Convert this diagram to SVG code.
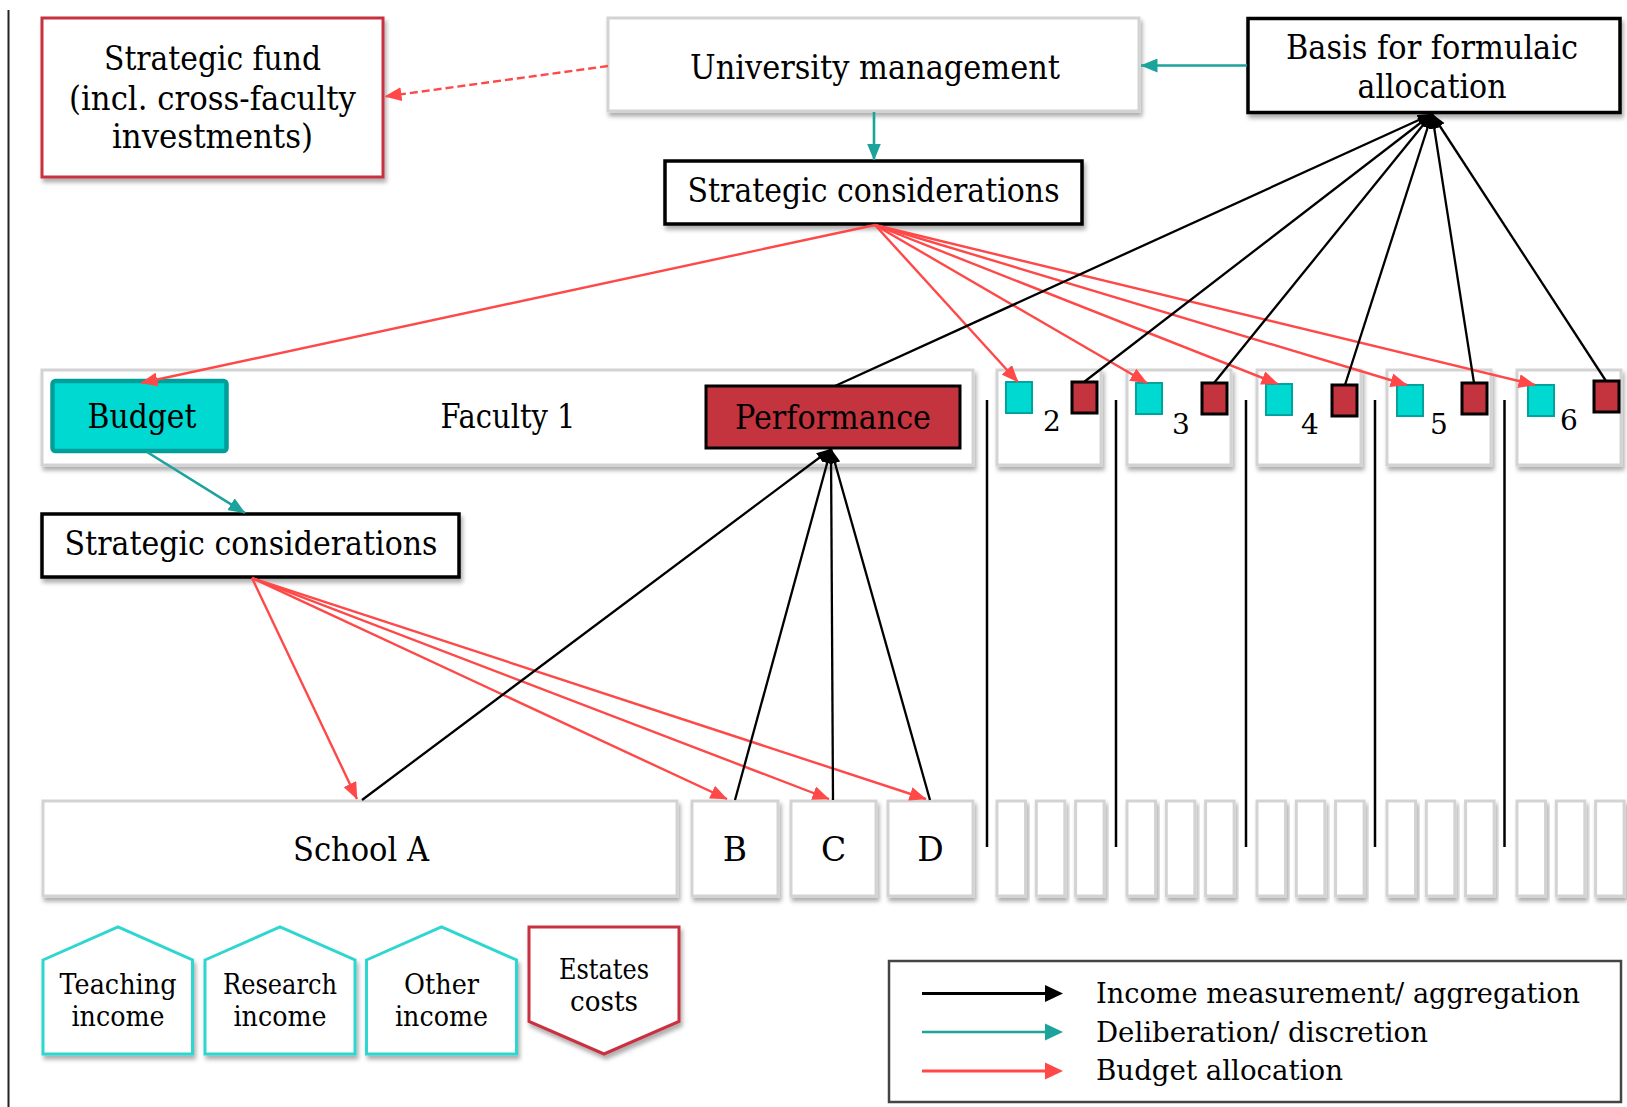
<svg xmlns="http://www.w3.org/2000/svg" width="1627" height="1107" viewBox="0 0 1627 1107">
  <style>
    text { font-family: "DejaVu Serif", "Liberation Serif", serif; fill: #000; text-anchor: middle; }
    .lbl { font-size: 33px; }
    .sm { font-size: 28px; }
    .num { font-size: 28px; }
    .leg { font-size: 28px; text-anchor: start; }
    .grey { fill: #fff; stroke: #d3d3d3; stroke-width: 3; filter: url(#shadow); }
    .blk { fill: #fff; stroke: #000; stroke-width: 3.5; filter: url(#shadow); }
    .redbox { fill: #fff; stroke: #c8323f; stroke-width: 3; filter: url(#shadow); }
    .inc { fill: #fff; stroke: #2fd6d0; stroke-width: 3; stroke-linejoin: miter; filter: url(#shadow); }
    .cost { fill: #fff; stroke: #c8323f; stroke-width: 3; filter: url(#shadow); }
    .cyan { fill: #00d8d2; stroke: #00a49d; stroke-width: 2; }
    .perf { fill: #c4343e; stroke: #000; stroke-width: 3; }
    .c-black { stroke: #000; stroke-width: 2.3; fill: none; marker-end: url(#ah-black); }
    .c-red { stroke: #ff4848; stroke-width: 2.4; fill: none; marker-end: url(#ah-red); }
    .c-teal { stroke: #1ba39c; stroke-width: 2.6; fill: none; marker-end: url(#ah-teal); }
    .vline { stroke: #000; stroke-width: 2.5; }
  </style>
  <defs>
    <filter id="shadow" x="-10%" y="-15%" width="125%" height="140%">
      <feDropShadow dx="2" dy="4" stdDeviation="2" flood-color="#000" flood-opacity="0.32"/>
    </filter>
    <marker id="ah-red" viewBox="0 0 17 14" refX="16.5" refY="7" markerWidth="17" markerHeight="14" markerUnits="userSpaceOnUse" orient="auto">
      <path d="M0,0 L17,7 L0,14 Z" fill="#ff4848"/>
    </marker>
    <marker id="ah-teal" viewBox="0 0 17 14" refX="16.5" refY="7" markerWidth="17" markerHeight="14" markerUnits="userSpaceOnUse" orient="auto">
      <path d="M0,0 L17,7 L0,14 Z" fill="#1ba39c"/>
    </marker>
    <marker id="ah-black" viewBox="0 0 15 11" refX="14.5" refY="5.5" markerWidth="15" markerHeight="11" markerUnits="userSpaceOnUse" orient="auto">
      <path d="M0,0 L15,5.5 L0,11 Z" fill="#000"/>
    </marker>
  </defs>

  <rect width="1627" height="1107" fill="#fff"/>
  <!-- page margin rule -->
  <line x1="8.5" y1="10" x2="8.5" y2="1107" stroke="#222" stroke-width="2"/>

  <!-- top level -->
  <g id="strategic-fund">
    <rect class="redbox" x="42" y="18" width="341" height="159"/>
    <text class="lbl" x="212.5" y="70" textLength="217" lengthAdjust="spacingAndGlyphs">Strategic fund</text>
    <text class="lbl" x="212.5" y="110" textLength="287" lengthAdjust="spacingAndGlyphs">(incl. cross-faculty</text>
    <text class="lbl" x="212.5" y="148" textLength="201" lengthAdjust="spacingAndGlyphs">investments)</text>
  </g>
  <g id="university-management">
    <rect class="grey" x="608" y="18" width="531" height="93"/>
    <text class="lbl" x="875" y="79" textLength="370" lengthAdjust="spacingAndGlyphs">University management</text>
  </g>
  <g id="basis-formulaic">
    <rect class="blk" x="1248" y="18.5" width="372" height="94"/>
    <text class="lbl" x="1432" y="59" textLength="292" lengthAdjust="spacingAndGlyphs">Basis for formulaic</text>
    <text class="lbl" x="1432" y="98" textLength="149" lengthAdjust="spacingAndGlyphs">allocation</text>
  </g>
  <g id="strategic-considerations-top">
    <rect class="blk" x="665" y="161" width="417" height="63"/>
    <text class="lbl" x="873.5" y="202" textLength="372" lengthAdjust="spacingAndGlyphs">Strategic considerations</text>
  </g>

  <!-- faculty level -->
  <g id="faculty-1">
    <rect class="grey" x="42" y="370" width="931" height="95"/>
    <text class="lbl" x="508" y="428" textLength="135" lengthAdjust="spacingAndGlyphs">Faculty 1</text>
  </g>
  <g id="budget">
    <rect x="52.5" y="381" width="174" height="70" rx="3" fill="#00d8d2" stroke="#009e98" stroke-width="4.5"/>
    <text class="lbl" x="142" y="428" textLength="109" lengthAdjust="spacingAndGlyphs">Budget</text>
  </g>
  <g id="performance">
    <rect class="perf" x="706" y="386" width="254" height="62"/>
    <text class="lbl" x="833" y="429" textLength="196" lengthAdjust="spacingAndGlyphs">Performance</text>
  </g>

  <g id="faculty-2">
    <rect class="grey" x="997" y="370" width="104" height="95"/>
    <rect class="cyan" x="1006" y="382" width="26" height="31"/>
    <rect class="perf" x="1072" y="382" width="25" height="31" stroke-width="2.5"/>
    <text class="num" x="1052" y="431">2</text>
  </g>
  <g id="faculty-3">
    <rect class="grey" x="1127" y="370" width="104" height="95"/>
    <rect class="cyan" x="1136" y="383" width="26" height="31"/>
    <rect class="perf" x="1202" y="383" width="25" height="31" stroke-width="2.5"/>
    <text class="num" x="1181" y="434">3</text>
  </g>
  <g id="faculty-4">
    <rect class="grey" x="1257" y="370" width="104" height="95"/>
    <rect class="cyan" x="1266" y="384" width="26" height="31"/>
    <rect class="perf" x="1332" y="385" width="25" height="31" stroke-width="2.5"/>
    <text class="num" x="1310" y="434">4</text>
  </g>
  <g id="faculty-5">
    <rect class="grey" x="1387" y="370" width="104" height="95"/>
    <rect class="cyan" x="1397" y="385" width="26" height="31"/>
    <rect class="perf" x="1462" y="383" width="25" height="31" stroke-width="2.5"/>
    <text class="num" x="1439" y="434">5</text>
  </g>
  <g id="faculty-6">
    <rect class="grey" x="1517" y="370" width="104" height="95"/>
    <rect class="cyan" x="1528" y="385" width="26" height="31"/>
    <rect class="perf" x="1594" y="381" width="25" height="31" stroke-width="2.5"/>
    <text class="num" x="1569" y="430">6</text>
  </g>

  <g id="strategic-considerations-faculty">
    <rect class="blk" x="42" y="514" width="417" height="63"/>
    <text class="lbl" x="251" y="555" textLength="373" lengthAdjust="spacingAndGlyphs">Strategic considerations</text>
  </g>

  <!-- school level -->
  <g id="school-a">
    <rect class="grey" x="43" y="801" width="634" height="95"/>
    <text class="lbl" x="361" y="861" textLength="136" lengthAdjust="spacingAndGlyphs">School A</text>
  </g>
  <g id="school-b">
    <rect class="grey" x="692" y="801" width="86" height="95"/>
    <text class="lbl" x="735" y="861">B</text>
  </g>
  <g id="school-c">
    <rect class="grey" x="791" y="801" width="85" height="95"/>
    <text class="lbl" x="833.5" y="861">C</text>
  </g>
  <g id="school-d">
    <rect class="grey" x="888" y="801" width="85" height="95"/>
    <text class="lbl" x="930.5" y="861">D</text>
  </g>

  <!-- schools of faculties 2-6 -->
  <g id="schools-2-6">
    <rect class="grey" x="997" y="801" width="28.5" height="95"/>
    <rect class="grey" x="1036.3" y="801" width="28.5" height="95"/>
    <rect class="grey" x="1075.6" y="801" width="28.5" height="95"/>
    <rect class="grey" x="1127" y="801" width="28.5" height="95"/>
    <rect class="grey" x="1166.3" y="801" width="28.5" height="95"/>
    <rect class="grey" x="1205.6" y="801" width="28.5" height="95"/>
    <rect class="grey" x="1257" y="801" width="28.5" height="95"/>
    <rect class="grey" x="1296.3" y="801" width="28.5" height="95"/>
    <rect class="grey" x="1335.6" y="801" width="28.5" height="95"/>
    <rect class="grey" x="1387" y="801" width="28.5" height="95"/>
    <rect class="grey" x="1426.3" y="801" width="28.5" height="95"/>
    <rect class="grey" x="1465.6" y="801" width="28.5" height="95"/>
    <rect class="grey" x="1517" y="801" width="28.5" height="95"/>
    <rect class="grey" x="1556.3" y="801" width="28.5" height="95"/>
    <rect class="grey" x="1595.6" y="801" width="28.5" height="95"/>
  </g>

  <!-- income and cost categories -->
  <g id="teaching-income">
    <path class="inc" d="M43,960 L118,927 L192.5,960 L192.5,1054 L43,1054 Z"/>
    <text class="sm" x="118" y="994" textLength="117" lengthAdjust="spacingAndGlyphs">Teaching</text>
    <text class="sm" x="118" y="1026" textLength="93" lengthAdjust="spacingAndGlyphs">income</text>
  </g>
  <g id="research-income">
    <path class="inc" d="M205,960 L280,927 L355,960 L355,1054 L205,1054 Z"/>
    <text class="sm" x="280" y="994" textLength="114" lengthAdjust="spacingAndGlyphs">Research</text>
    <text class="sm" x="280" y="1026" textLength="93" lengthAdjust="spacingAndGlyphs">income</text>
  </g>
  <g id="other-income">
    <path class="inc" d="M366.5,960 L441.5,927 L516.5,960 L516.5,1054 L366.5,1054 Z"/>
    <text class="sm" x="441.5" y="994" textLength="75" lengthAdjust="spacingAndGlyphs">Other</text>
    <text class="sm" x="441.5" y="1026" textLength="93" lengthAdjust="spacingAndGlyphs">income</text>
  </g>
  <g id="estates-costs">
    <path class="cost" d="M529,927 L679,927 L679,1021.5 L604,1054 L529,1021.5 Z"/>
    <text class="sm" x="604" y="979" textLength="90" lengthAdjust="spacingAndGlyphs">Estates</text>
    <text class="sm" x="604" y="1011" textLength="68" lengthAdjust="spacingAndGlyphs">costs</text>
  </g>

  <!-- connectors -->
  <g id="connectors">
    <!-- deliberation / discretion -->
    <line class="c-teal" x1="1247" y1="65.5" x2="1141" y2="65.5"/>
    <line class="c-teal" x1="874" y1="112" x2="874" y2="160"/>
    <line class="c-teal" x1="147" y1="452" x2="245" y2="513"/>
    <!-- budget allocation -->
    <line class="c-red" x1="608" y1="66" x2="385" y2="96.5" stroke-dasharray="8,4"/>
    <line class="c-red" x1="875" y1="225" x2="141" y2="383"/>
    <line class="c-red" x1="875" y1="225" x2="1018" y2="382"/>
    <line class="c-red" x1="875" y1="225" x2="1147" y2="383"/>
    <line class="c-red" x1="875" y1="225" x2="1278" y2="384"/>
    <line class="c-red" x1="875" y1="225" x2="1407" y2="385"/>
    <line class="c-red" x1="875" y1="225" x2="1535" y2="385"/>
    <line class="c-red" x1="252" y1="578" x2="357" y2="799"/>
    <line class="c-red" x1="252" y1="578" x2="727" y2="799"/>
    <line class="c-red" x1="252" y1="578" x2="829" y2="799"/>
    <line class="c-red" x1="252" y1="578" x2="926" y2="799"/>
    <!-- income measurement / aggregation -->
    <line class="c-black" x1="835" y1="386" x2="1432" y2="114"/>
    <line class="c-black" x1="1084" y1="382" x2="1432" y2="114"/>
    <line class="c-black" x1="1214" y1="383" x2="1432" y2="114"/>
    <line class="c-black" x1="1345" y1="385" x2="1432" y2="114"/>
    <line class="c-black" x1="1474" y1="383" x2="1432" y2="114"/>
    <line class="c-black" x1="1606" y1="381" x2="1432" y2="114"/>
    <line class="c-black" x1="362" y1="800" x2="831" y2="449"/>
    <line class="c-black" x1="735" y1="800" x2="831" y2="449"/>
    <line class="c-black" x1="833" y1="800" x2="831" y2="449"/>
    <line class="c-black" x1="930" y1="800" x2="831" y2="449"/>
    <!-- aggregation from schools of faculties 2-6 -->
    <line class="vline" x1="987" y1="400" x2="987" y2="847"/>
    <line class="vline" x1="1116" y1="400" x2="1116" y2="847"/>
    <line class="vline" x1="1246" y1="400" x2="1246" y2="847"/>
    <line class="vline" x1="1375" y1="400" x2="1375" y2="847"/>
    <line class="vline" x1="1504.5" y1="400" x2="1504.5" y2="847"/>
  </g>

  <!-- legend -->
  <g id="legend">
    <rect x="889" y="961" width="732" height="141" fill="#fff" stroke="#444" stroke-width="2.5"/>
    <line x1="922" y1="993.5" x2="1048" y2="993.5" stroke="#000" stroke-width="3"/>
    <path d="M1045,985 L1063,993.5 L1045,1002 Z" fill="#000"/>
    <line x1="922" y1="1032" x2="1048" y2="1032" stroke="#1ba39c" stroke-width="2.5"/>
    <path d="M1045,1023.5 L1063,1032 L1045,1040.5 Z" fill="#1ba39c"/>
    <line x1="922" y1="1071" x2="1048" y2="1071" stroke="#ff4848" stroke-width="3"/>
    <path d="M1045,1062.5 L1063,1071 L1045,1079.5 Z" fill="#ff4848"/>
    <text class="leg" x="1096" y="1003" textLength="484" lengthAdjust="spacingAndGlyphs">Income measurement/ aggregation</text>
    <text class="leg" x="1096" y="1042" textLength="332" lengthAdjust="spacingAndGlyphs">Deliberation/ discretion</text>
    <text class="leg" x="1096" y="1080" textLength="247" lengthAdjust="spacingAndGlyphs">Budget allocation</text>
  </g>
</svg>
